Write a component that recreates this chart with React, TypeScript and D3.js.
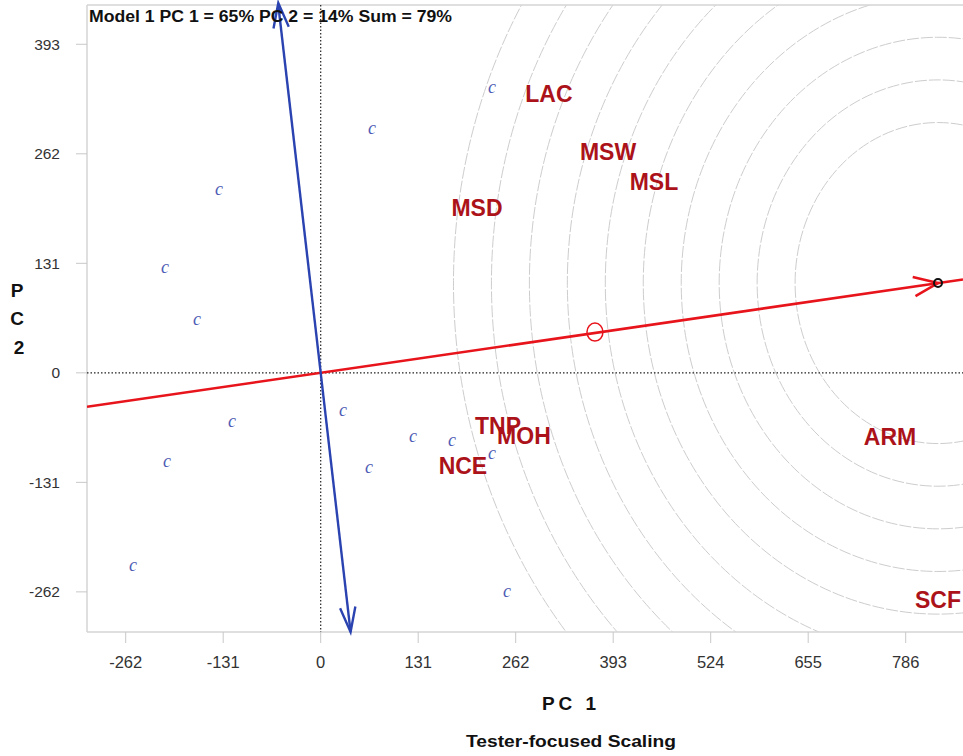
import React from "react";
import * as d3 from "d3";

// ---- data ----
const xTicks = [-262, -131, 0, 131, 262, 393, 524, 655, 786];
const yTicks = [-262, -131, 0, 131, 262, 393];

const testerNames = ["LAC", "MSW", "MSL", "MSD", "TNP", "MOH", "NCE", "ARM", "SCF"];
const testerX = [306.7, 386, 447.8, 210, 238.2, 273.1, 191.1, 764.9, 829.4];
const testerY = [334.7, 265.3, 229.4, 198.3, -62.4, -74.4, -111.4, -75.6, -270.6];

const entryX = [230.2, 68.9, -136.6, -209.3, -166.3, -119.3, 29.96, 124, 176.4, 230.2, 64.9, -206.5, -252.2, 250.4];
const entryY = [340.7, 291.6, 218.9, 125.4, 63.2, -58.9, -45.2, -76.3, -81.1, -96.7, -113.4, -106.2, -231.1, -262.2];

const idealPoint = [829.4, 107.4];
const aeaMean = [368.5, 48.8];
const ringRadii = [192, 243, 294, 345, 396, 447, 498, 549, 600, 651];

const xDomain = [-314, 863];
const yDomain = [-310, 440];

export default function App() {
  const left = 87, right = 963, top = 5, bottom = 632;
  const x = d3.scaleLinear().domain(xDomain).range([left, right]);
  const y = d3.scaleLinear().domain(yDomain).range([bottom, top]);

  const slope = idealPoint[1] / idealPoint[0];
  const redX0 = xDomain[0], redX1 = xDomain[1];
  const redLine = d3.line<number[]>().x((d) => x(d[0])).y((d) => y(d[1]))([
    [redX0, redX0 * slope],
    [redX1, redX1 * slope],
  ]);
  // perpendicular (in data space) through origin
  const perp = -idealPoint[0] / idealPoint[1];
  const blueTop = [yDomain[1] / perp, yDomain[1]];
  const blueBot = [yDomain[0] / perp, yDomain[0]];
  const blueLine = d3.line<number[]>().x((d) => x(d[0])).y((d) => y(d[1]))([blueTop, blueBot]);

  const arrowHead = (tipx: number, tipy: number, fromx: number, fromy: number, len: number, ang: number) => {
    const a = Math.atan2(fromy - tipy, fromx - tipx);
    const p1 = [tipx + len * Math.cos(a + ang), tipy + len * Math.sin(a + ang)];
    const p2 = [tipx + len * Math.cos(a - ang), tipy + len * Math.sin(a - ang)];
    return `M${p1[0]},${p1[1]}L${tipx},${tipy}L${p2[0]},${p2[1]}`;
  };

  const ipx = x(idealPoint[0]), ipy = y(idealPoint[1]);
  const btx = x(blueTop[0]), bty = y(blueTop[1]) - 2;
  const bbx = x(blueBot[0]), bby = y(blueBot[1]);

  const sans = "'Liberation Sans', Arial, sans-serif";
  const red = "#ab1219";

  return (
    <svg width={963} height={756} style={{ position: "absolute", left: 0, top: 0, background: "#fff" }}>
      <defs>
        <clipPath id="plotclip">
          <rect x={left} y={top} width={right - left} height={bottom - top} />
        </clipPath>
      </defs>
      <rect x={0} y={0} width={963} height={756} fill="#fff" />

      {/* concentric rings */}
      <g clipPath="url(#plotclip)">
        {ringRadii.map((r, i) => (
          <ellipse
            key={i}
            cx={ipx}
            cy={ipy}
            rx={x(r) - x(0)}
            ry={y(0) - y(r)}
            fill="none"
            stroke="#cdcdcd"
            strokeWidth={1}
            strokeDasharray="12,2"
          />
        ))}
      </g>

      {/* frame */}
      <line x1={left} y1={top} x2={right} y2={top} stroke="#d4d4d4" strokeWidth={1.5} />
      <line x1={left} y1={top} x2={left} y2={bottom} stroke="#d4d4d4" strokeWidth={1.5} />
      <line x1={left} y1={bottom} x2={right} y2={bottom} stroke="#d4d4d4" strokeWidth={1.5} />

      {/* ticks */}
      {xTicks.map((t) => (
        <g key={"xt" + t}>
          <line x1={x(t)} x2={x(t)} y1={bottom} y2={bottom + 11} stroke="#c8c8c8" strokeWidth={1} />
          <text
            x={x(t)}
            y={668}
            textAnchor="middle"
            fontFamily="'Liberation Sans Narrow', 'Liberation Sans', Arial, sans-serif"
            fontSize={16.5}
            fill="#333"
          >
            {t}
          </text>
        </g>
      ))}
      {yTicks.map((t) => (
        <g key={"yt" + t}>
          <line x1={left - 11} x2={left} y1={y(t)} y2={y(t)} stroke="#c8c8c8" strokeWidth={1} />
          <text x={60} y={y(t) + 5.5} textAnchor="end" fontFamily={sans} fontSize={15.5} fill="#333">
            {t}
          </text>
        </g>
      ))}

      {/* dotted zero lines */}
      <line x1={x(0)} x2={x(0)} y1={top} y2={bottom} stroke="#222" strokeWidth={1.2} strokeDasharray="1.5,2" />
      <line x1={left} x2={right} y1={y(0)} y2={y(0)} stroke="#222" strokeWidth={1.2} strokeDasharray="1.5,2" />

      {/* entries */}
      {entryX.map((ex, i) => (
        <text
          key={"c" + i}
          x={x(ex)}
          y={y(entryY[i]) + 5}
          textAnchor="middle"
          fontFamily="'Liberation Serif', 'DejaVu Serif', serif"
          fontStyle="italic"
          fontSize={18}
          fill="#4e5cb5"
        >
          c
        </text>
      ))}

      {/* testers */}
      <g clipPath="url(#plotclip)">
        {testerNames.map((n, i) => (
          <text
            key={n}
            x={x(testerX[i])}
            y={y(testerY[i]) + 8.5}
            textAnchor="middle"
            fontFamily={sans}
            fontWeight="bold"
            fontSize={23}
            fill={red}
          >
            {n}
          </text>
        ))}
      </g>

      {/* red AEA line */}
      <g clipPath="url(#plotclip)">
        <path d={redLine || ""} stroke="#e8141c" strokeWidth={2.6} fill="none" />
        <path
          d={arrowHead(ipx, ipy, x(0), y(0), 26, 0.38)}
          stroke="#e8141c"
          strokeWidth={2.6}
          fill="none"
        />
      </g>
      <ellipse cx={x(aeaMean[0])} cy={y(aeaMean[1])} rx={8} ry={9} fill="none" stroke="#e8141c" strokeWidth={1.5} />
      <circle cx={ipx} cy={ipy} r={4} fill="none" stroke="#111" strokeWidth={2} />

      {/* blue ATC ordinate */}
      <path d={blueLine || ""} stroke="#2a43b0" strokeWidth={2.4} fill="none" />
      <path d={arrowHead(btx, bty, bbx, bby, 26, 0.3)} stroke="#2a43b0" strokeWidth={2.4} fill="none" />
      <path d={arrowHead(bbx, bby, btx, bty, 26, 0.3)} stroke="#2a43b0" strokeWidth={2.4} fill="none" />

      {/* title */}
      <text x={89} y={22} fontFamily={sans} fontWeight="bold" fontSize={16} fill="#111" textLength={363} lengthAdjust="spacingAndGlyphs">
        Model 1 PC 1 = 65% PC 2 = 14% Sum = 79%
      </text>

      {/* axis titles */}
      <text x={571} y={710} textAnchor="middle" fontFamily={sans} fontWeight="bold" fontSize={19} fill="#111" letterSpacing={4}>
        PC 1
      </text>
      <text x={571} y={747} textAnchor="middle" fontFamily={sans} fontWeight="bold" fontSize={17} fill="#111" textLength={210} lengthAdjust="spacingAndGlyphs">
        Tester-focused Scaling
      </text>
      <text x={17} y={297} textAnchor="middle" fontFamily={sans} fontWeight="bold" fontSize={19} fill="#111">P</text>
      <text x={17} y={325} textAnchor="middle" fontFamily={sans} fontWeight="bold" fontSize={19} fill="#111">C</text>
      <text x={19} y={354} textAnchor="middle" fontFamily={sans} fontWeight="bold" fontSize={19} fill="#111">2</text>
    </svg>
  );
}
